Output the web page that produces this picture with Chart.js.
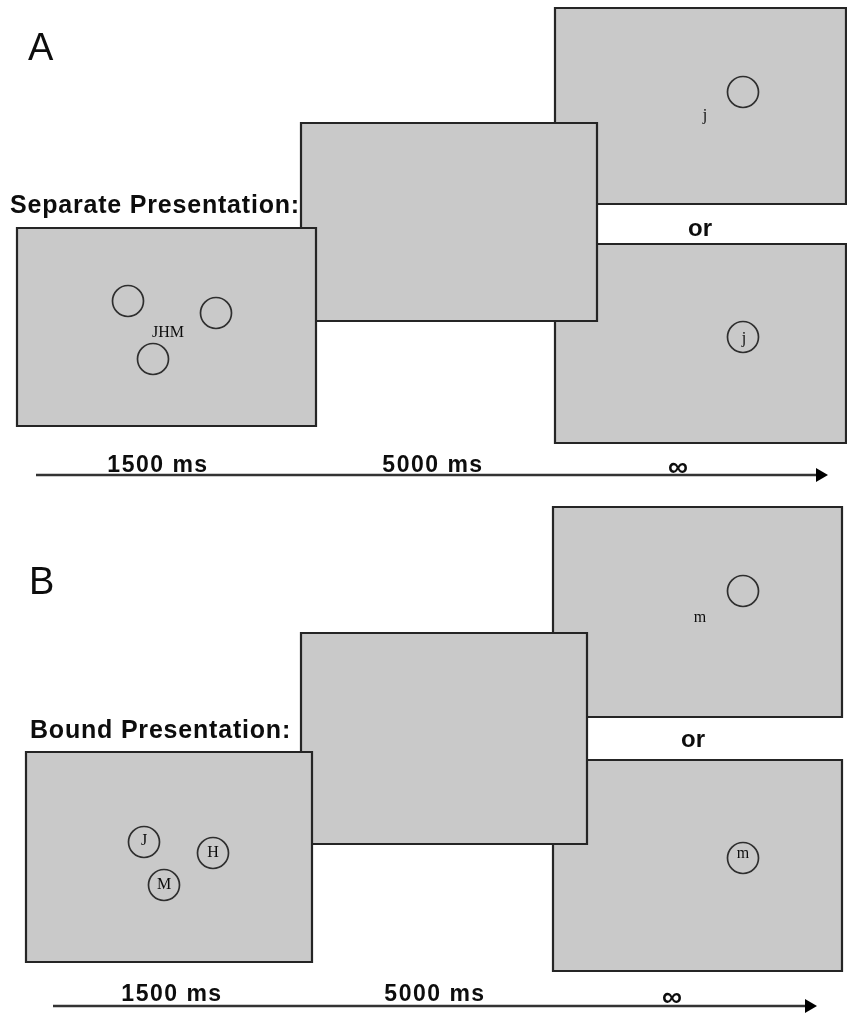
<!DOCTYPE html>
<html>
<head>
<meta charset="utf-8">
<script src="https://cdn.jsdelivr.net/npm/chart.js@4"></script>
<style>
html,body{margin:0;padding:0;background:#fff;}
canvas{display:block;}
</style>
</head>
<body>
<canvas id="c" width="847" height="1015"></canvas>
<script>
// ---- data (diagram coordinates, x: 0..847, y: 0..1015 top-down) ----
// screens, listed bottom layer first
const screenNames = ['A probe (no match)','A probe (match)','A delay','A study',
                     'B probe (no match)','B probe (match)','B delay','B study'];
const screenLeft   = [555, 555, 301, 17,  553, 553, 301, 26];
const screenRight  = [846, 846, 597, 316, 842, 842, 587, 312];
const screenTop    = [8,   244, 123, 228, 507, 760, 633, 752];
const screenBottom = [204, 443, 321, 426, 717, 971, 844, 962];

// location circles
const circleX = [128, 216, 153, 743, 743,  144, 213, 164, 743, 743];
const circleY = [301, 313, 359,  92, 337,  842, 853, 885, 591, 858];

// letters shown on screens
const letterText = ['JHM', 'j', 'j', 'J', 'H', 'M', 'm', 'm'];
const letterX    = [168, 705, 744, 144, 213, 164, 700, 743];
const letterY    = [333, 116, 339, 841, 853, 885, 618, 854];

// timelines
const timelineStartX = [36, 53];
const timelineEndX   = [820, 809];
const timelineY      = [475, 1006];
const durationLabels = ['1500 ms', '5000 ms', '\u221E'];
const durationXA     = [158, 433, 678];
const durationXB     = [172, 435, 672];
const durationYA     = [466, 466, 468];
const durationYB     = [995, 995, 998];

// headings
const panelLetters   = ['A', 'B'];
const panelLetterX   = [28, 29];
const panelLetterY   = [50, 584];
const conditionNames = ['Separate Presentation:', 'Bound Presentation:'];
const conditionX     = [10, 30];
const conditionY     = [206, 731];
const orX            = [700, 693];
const orY            = [229, 740];

// ---- build datasets ----
const datasets = [];
screenNames.forEach((name, i) => {
  const x0 = screenLeft[i], x1 = screenRight[i], y0 = screenTop[i], y1 = screenBottom[i];
  datasets.push({
    label: name,
    type: 'scatter',
    showLine: true,
    data: [{x:x0,y:y0},{x:x1,y:y0},{x:x1,y:y1},{x:x0,y:y1},{x:x0,y:y0},{x:x1,y:y0}],
    borderColor: '#252525',
    borderWidth: 2.2,
    borderJoinStyle: 'miter',
    borderCapStyle: 'butt',
    backgroundColor: '#c9c9c9',
    fill: 'shape',
    pointRadius: 0,
    tension: 0,
    // larger order = drawn earlier (underneath)
    order: 100 - (i % 4)
  });
});
datasets.push({
  label: 'circles',
  type: 'scatter',
  data: circleX.map((x, i) => ({x, y: circleY[i]})),
  pointStyle: 'circle',
  pointRadius: 15.5,
  pointBorderWidth: 1.7,
  pointBorderColor: '#2e2e2e',
  pointBackgroundColor: 'rgba(0,0,0,0)',
  order: 1
});
timelineY.forEach((y, i) => {
  datasets.push({
    label: 'timeline ' + i,
    type: 'scatter',
    showLine: true,
    data: [{x: timelineStartX[i], y}, {x: timelineEndX[i], y}],
    borderColor: '#333',
    borderWidth: 2.5,
    pointRadius: [0, 8],
    pointStyle: 'triangle',
    rotation: 90,
    pointBackgroundColor: '#000',
    pointBorderColor: '#000',
    pointBorderWidth: 0,
    order: 2
  });
});

const textPlugin = {
  id: 'diagramText',
  afterDatasetsDraw(chart) {
    const ctx = chart.ctx, sx = chart.scales.x, sy = chart.scales.y;
    const put = (txt, x, y, font, align, spacing) => {
      ctx.save();
      ctx.font = font;
      ctx.fillStyle = '#0d0d0d';
      ctx.textAlign = align;
      ctx.textBaseline = 'middle';
      ctx.letterSpacing = (spacing || 0) + 'px';
      ctx.fillText(txt, sx.getPixelForValue(x), sy.getPixelForValue(y));
      ctx.restore();
    };
    panelLetters.forEach((t, i) => put(t, panelLetterX[i], panelLetterY[i], '38px "Liberation Sans", Arial, sans-serif', 'left'));
    conditionNames.forEach((t, i) => put(t, conditionX[i], conditionY[i], 'bold 25px "Liberation Sans", Arial, sans-serif', 'left', 0.8));
    orX.forEach((x, i) => put('or', x, orY[i], 'bold 24px "Liberation Sans", Arial, sans-serif', 'center'));
    letterText.forEach((t, i) => put(t, letterX[i], letterY[i], '16px "Liberation Serif", "Times New Roman", serif', 'center'));
    durationLabels.forEach((t, i) => {
      const f = i === 2 ? 'bold 28px "Liberation Sans", Arial, sans-serif' : 'bold 23px "Liberation Sans", Arial, sans-serif';
      put(t, durationXA[i], durationYA[i], f, 'center', i === 2 ? 0 : 1.5);
      put(t, durationXB[i], durationYB[i], f, 'center', i === 2 ? 0 : 1.5);
    });
  }
};

new Chart(document.getElementById('c'), {
  type: 'scatter',
  data: { datasets },
  options: {
    responsive: false,
    animation: false,
    devicePixelRatio: 1,
    layout: { padding: 0, autoPadding: false },
    plugins: { legend: { display: false }, tooltip: { enabled: false } },
    scales: {
      x: { type: 'linear', min: 0, max: 847, display: false },
      y: { type: 'linear', min: 0, max: 1015, reverse: true, display: false }
    }
  },
  plugins: [textPlugin]
});
</script>
</body>
</html>
